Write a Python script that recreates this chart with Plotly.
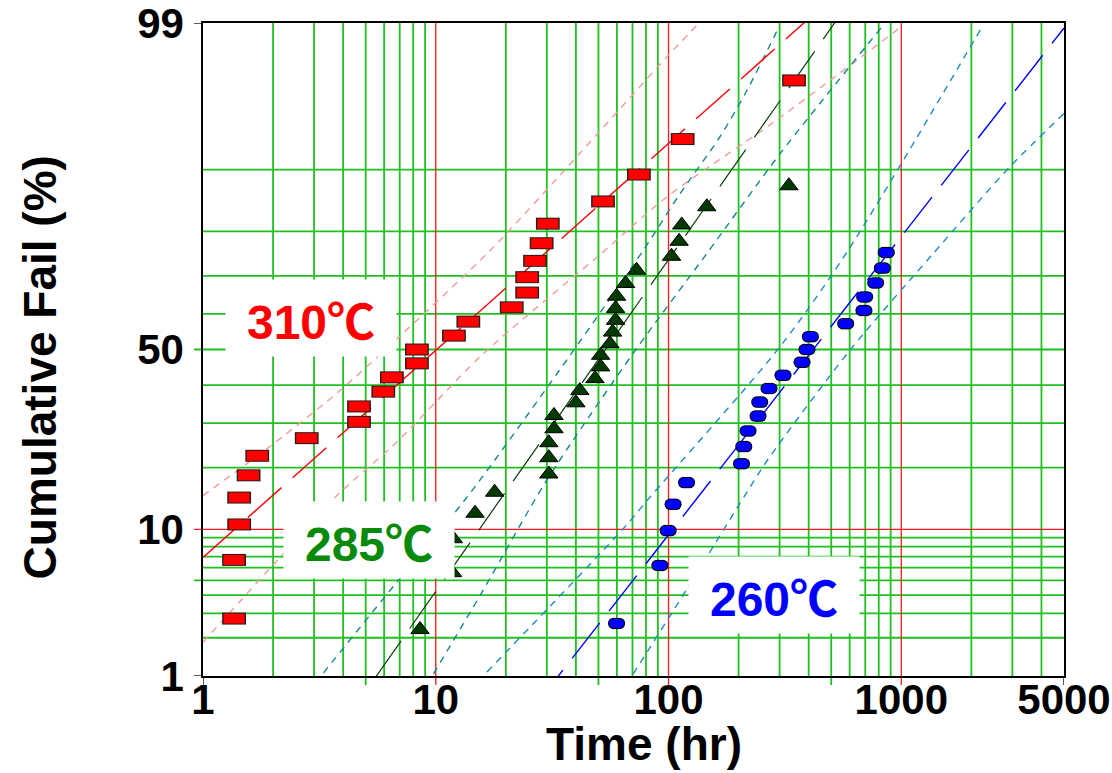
import math
import plotly.graph_objects as go
from statistics import NormalDist

# ---------------- data ----------------
# 310 C : failure times (hr) and cumulative fail (%)
t310 = [1.36, 1.36, 1.43, 1.43, 1.57, 1.71, 2.79, 4.68, 4.68, 5.95, 6.48, 8.30, 8.30,
        11.97, 13.8, 21.2, 24.7, 24.7, 26.7, 28.5, 30.3, 52.3, 74.6, 115, 346]
f310 = [2.76, 6.69, 10.63, 14.57, 18.50, 22.44, 26.38, 30.31, 34.25, 38.19, 42.13, 46.06,
        50.00, 53.94, 57.87, 61.81, 65.75, 69.69, 73.62, 77.56, 81.50, 85.43, 89.37, 93.31, 97.24]

# 285 C
t285 = [8.56, 11.8, 11.9, 14.75, 17.9, 30.6, 30.6, 30.6, 32.2, 32.2, 40.0, 41.6, 48.3, 51.1,
        51.1, 56.0, 57.5, 59.2, 59.2, 59.8, 65.4, 72.9, 103, 111, 114, 146, 329]
f285 = [2.30, 5.59, 8.88, 12.17, 15.46, 18.75, 22.04, 25.33, 28.62, 31.91, 35.20, 38.49, 41.78,
        45.07, 48.36, 51.64, 54.93, 58.22, 61.51, 64.80, 68.09, 71.38, 74.67, 77.96, 81.25,
        84.54, 87.83]

# 260 C
t260 = [59.8, 91.8, 99.6, 104.6, 119.5, 205.8, 210.5, 219.6, 242.4, 246.5, 270.2, 310.3,
        374.5, 393.4, 406.8, 576.8, 691, 696, 776, 829, 862]
f260 = [2.55, 6.20, 9.85, 13.50, 17.15, 20.80, 24.45, 28.10, 31.75, 35.40, 39.05, 42.70,
        46.35, 50.00, 53.65, 57.30, 60.95, 64.60, 68.25, 71.90, 75.55]

# lognormal fit lines: median life (hr) and sigma (log10 units)
median310, sigma310 = 10.1, 0.678
median285, sigma285 = 53.6, 0.423
median260, sigma260 = 418.0, 0.4705

# confidence bounds: (time hr, cumulative %)
b310_left_t = [1.0, 2.01, 3.88, 6.80, 17.1, 41.6, 98.0, 131.9]
b310_left_f = [14.9, 25.1, 38.5, 53.0, 75.96, 91.9, 98.13, 98.95]
b310_right_t = [1.0, 2.18, 3.76, 6.80, 16.0, 49.1, 98.0, 281, 1016]
b310_right_f = [1.85, 7.12, 14.9, 25.5, 48.8, 74.4, 86.1, 94.7, 98.95]

b285_left_t = [3.29, 6.80, 13.6, 37.7, 77.8, 111.8, 166, 216, 295]
b285_left_f = [1.06, 4.87, 14.6, 48.3, 75.96, 86.6, 93.5, 96.7, 98.88]
b285_right_t = [9.77, 15.8, 29.9, 72.4, 145.6, 300.4, 834]
b285_right_f = [1.04, 4.19, 17.5, 50.0, 75.2, 91.8, 98.95]

b260_left_t = [16.6, 63.9, 83.1, 300, 590, 2240]
b260_left_f = [1.08, 10.08, 14.6, 50.65, 75.96, 98.95]
b260_right_t = [70.5, 121.4, 230.7, 272, 600, 1366, 2916, 5000]
b260_right_f = [1.04, 4.52, 17.2, 22.2, 49.7, 75.2, 90.3, 95.36]

# axes
x_ticks = [1, 10, 100, 1000, 5000]
y_ticks = [1, 10, 50, 99]
x_grid_green = [2, 3, 4, 5, 6, 7, 8, 9, 20, 30, 40, 50, 60, 70, 80, 90,
                200, 300, 400, 500, 600, 700, 800, 900, 2000, 3000, 4000]
x_grid_red = [10, 100, 1000]
x_tick_ext = [5, 50, 500]
y_grid_green = [2, 3, 4, 5, 6, 7, 8, 9, 20, 30, 40, 50, 60, 70, 80, 90]
y_grid_red = [10]
y_tick_ext = [5, 50]

label_nums = ["310", "285", "260"]
degree_sign = "℃"

# ---------------- helpers ----------------
ND = NormalDist()


def z(p):
    return ND.inv_cdf(p / 100.0)


def zs(ps):
    return [z(p) for p in ps]


FONT = "Liberation Sans, Arial, Helvetica, sans-serif"
CJK = "Noto Sans CJK JP"
XMIN, XMAX = 1, 5000
EPS = 1e-6
YMIN, YMAX = z(1) - EPS, z(99) + EPS

GREEN = "#20c020"
RED = "#ff1a1a"

fig = go.Figure()


def fit_trace(median, sigma, color, width):
    xs = [XMIN, XMAX]
    ys = [(math.log10(v) - math.log10(median)) / sigma for v in xs]
    return go.Scatter(x=xs, y=ys, mode="lines", hoverinfo="skip", showlegend=False,
                      line=dict(color=color, width=width, dash="45px,15px"))


def bound_trace(ts, fs, color):
    return go.Scatter(x=ts, y=zs(fs), mode="lines", hoverinfo="skip", showlegend=False,
                      line=dict(color=color, width=1.4, dash="7px,6px", shape="spline",
                                smoothing=0.8))


# confidence bounds
fig.add_trace(bound_trace(b310_left_t, b310_left_f, "#f49a9a"))
fig.add_trace(bound_trace(b310_right_t, b310_right_f, "#f49a9a"))
fig.add_trace(bound_trace(b285_left_t, b285_left_f, "#12888f"))
fig.add_trace(bound_trace(b285_right_t, b285_right_f, "#12888f"))
fig.add_trace(bound_trace(b260_left_t, b260_left_f, "#1c8cc4"))
fig.add_trace(bound_trace(b260_right_t, b260_right_f, "#1c8cc4"))

# fit lines
fig.add_trace(fit_trace(median310, sigma310, "#ff0000", 1.4))
fig.add_trace(fit_trace(median285, sigma285, "#0b3d0b", 1.2))
fig.add_trace(fit_trace(median260, sigma260, "#0000ff", 1.4))

# 310 C : red rectangles (outline + fill)
fig.add_trace(go.Scatter(x=t310, y=zs(f310), mode="markers", showlegend=False,
                         marker=dict(symbol="line-ew", size=17, color="#2a1a1a",
                                     line=dict(width=12, color="#2a1a1a"))))
fig.add_trace(go.Scatter(x=t310, y=zs(f310), mode="markers", showlegend=False,
                         marker=dict(symbol="line-ew", size=15, color="#ff0000",
                                     line=dict(width=10, color="#ff0000"))))

# 285 C : dark green triangles
fig.add_trace(go.Scatter(x=t285, y=zs(f285), mode="markers", showlegend=False,
                         marker=dict(symbol="triangle-up", size=16, color="#003a00",
                                     line=dict(width=1, color="#000000"))))

# 260 C : blue ellipses (three overlapping circles per point)
k = 10 ** (2.8 / 233.0)
ex = [v / k for v in t260] + t260 + [v * k for v in t260]
ey = zs(f260) * 3
fig.add_trace(go.Scatter(x=ex, y=ey, mode="markers", showlegend=False,
                         marker=dict(symbol="circle", size=11.5, color="#000000",
                                     line=dict(width=0))))
fig.add_trace(go.Scatter(x=ex, y=ey, mode="markers", showlegend=False,
                         marker=dict(symbol="circle", size=9.5, color="#0000ff",
                                     line=dict(width=0))))

# ---------------- grid lines (shapes) ----------------
shapes = []
ext_y = -9 / 653.0
ext_x = -9 / 861.0
for v in x_grid_green:
    shapes.append(dict(type="line", xref="x", yref="paper", x0=v, x1=v,
                       y0=ext_y if v in x_tick_ext else 0, y1=1, layer="below",
                       line=dict(color=GREEN, width=1.8)))
for v in y_grid_green:
    shapes.append(dict(type="line", xref="paper", yref="y", y0=z(v), y1=z(v),
                       x0=ext_x if v in y_tick_ext else 0, x1=1, layer="below",
                       line=dict(color=GREEN, width=1.8)))
for v in x_grid_red:
    shapes.append(dict(type="line", xref="x", yref="paper", x0=v, x1=v,
                       y0=ext_y, y1=1, layer="below", line=dict(color=RED, width=1.3)))
for v in y_grid_red:
    shapes.append(dict(type="line", xref="paper", yref="y", y0=z(v), y1=z(v),
                       x0=ext_x, x1=1, layer="below", line=dict(color=RED, width=1.3)))
# black end ticks
for v in [XMIN, XMAX]:
    shapes.append(dict(type="line", xref="x", yref="paper", x0=v, x1=v, y0=ext_y, y1=0,
                       layer="above", line=dict(color="black", width=1.3)))
for v in [1, 99]:
    shapes.append(dict(type="line", xref="paper", yref="y", y0=z(v), y1=z(v), x0=ext_x, x1=0,
                       layer="above", line=dict(color="black", width=1.3)))

# ---------------- labels ----------------
annotations = []
label_pos = [(0.1255, 0.548, "#ff0000"), (0.1929, 0.2083, "#0a8a0a"), (0.6631, 0.124, "#0000ff")]
for num, (px, py, col) in zip(label_nums, label_pos):
    txt = num + '<span style="font-family:' + CJK + '">' + degree_sign + '</span>'
    annotations.append(dict(text=txt, xref="paper", yref="paper", x=px, y=py,
                            xanchor="center", yanchor="middle", showarrow=False,
                            width=170, height=76, bgcolor="white", borderpad=0,
                            font=dict(family=FONT, size=48, color=col, weight="bold")))

annotations.append(dict(text="Time (hr)", xref="paper", yref="paper", x=0.512, y=-0.104,
                        xanchor="center", yanchor="middle", showarrow=False,
                        font=dict(family=FONT, size=46, color="black", weight="bold")))
annotations.append(dict(text="Cumulative Fail (%)", xref="paper", yref="paper", x=-0.189,
                        y=0.473, xanchor="center", yanchor="middle", showarrow=False,
                        textangle=-90,
                        font=dict(family=FONT, size=46, color="black", weight="bold")))

fig.update_layout(
    width=1112, height=773,
    margin=dict(l=203, r=48, t=23, b=97, autoexpand=False),
    paper_bgcolor="white", plot_bgcolor="white",
    shapes=shapes, annotations=annotations, showlegend=False,
    xaxis=dict(type="log", range=[0, math.log10(XMAX)], tickvals=x_ticks,
               ticktext=[str(v) for v in x_ticks], ticks="", showgrid=False,
               zeroline=False, showline=True, linecolor="black", linewidth=1.5,
               mirror=True, ticklabelstandoff=-14, automargin=False,
               ticklabeloverflow="allow",
               tickfont=dict(family=FONT, size=42, color="black", weight="bold")),
    yaxis=dict(range=[YMIN, YMAX], tickvals=zs(y_ticks),
               ticktext=[str(v) for v in y_ticks], ticks="", showgrid=False,
               zeroline=False, showline=True, linecolor="black", linewidth=1.5,
               mirror=True, ticklabelstandoff=9, automargin=False,
               ticklabeloverflow="allow",
               tickfont=dict(family=FONT, size=42, color="black", weight="bold")),
)

fig.write_html("out.html", config={"displayModeBar": False},
               post_script="document.body.style.margin='0';")
